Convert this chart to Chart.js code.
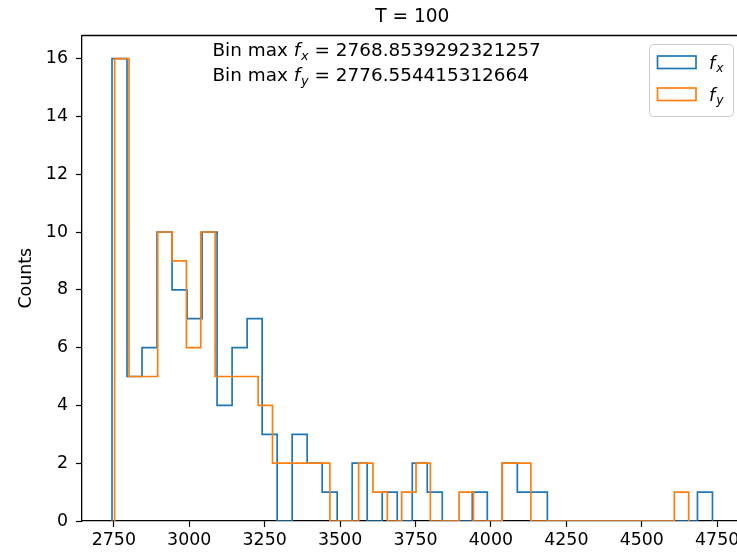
<!DOCTYPE html>
<html>
<head>
<meta charset="utf-8">
<title>T = 100</title>
<script src="https://cdn.jsdelivr.net/npm/chart.js@4.4.1/dist/chart.umd.min.js"></script>
<style>
  html, body { margin: 0; padding: 0; background: #fff; overflow: hidden; }
  #wrap { width: 737px; height: 553px; overflow: hidden; }
  canvas { display: block; }
</style>
</head>
<body>
<div id="wrap"><canvas id="hist" width="800" height="553"></canvas></div>
<script>
// Counts per bin (40 bins for each series)
const countsFx = [16, 5, 6, 10, 8, 7, 10, 4, 6, 7, 3, 0, 3, 2, 1, 0, 2, 0, 1, 0,
                  2, 1, 0, 0, 1, 0, 2, 1, 1, 0, 0, 0, 0, 0, 0, 0, 0, 0, 0, 1];
const countsFy = [16, 5, 5, 10, 9, 6, 10, 5, 5, 5, 4, 2, 2, 2, 2, 0, 0, 2, 1, 0,
                  1, 2, 0, 0, 1, 0, 0, 2, 2, 0, 0, 0, 0, 0, 0, 0, 0, 0, 0, 1];

// Bin widths and the centre of the fullest bin
const binWidthFx = 49.76;
const binWidthFy = 47.57;
const binMaxFx = 2768.8539292321257;
const binMaxFy = 2776.554415312664;
const binMaxFxLabel = '2768.8539292321257';
const binMaxFyLabel = '2776.554415312664';

const xTicks = [2750, 3000, 3250, 3500, 3750, 4000, 4250, 4500, 4750];
const yTicks = [0, 2, 4, 6, 8, 10, 12, 14, 16];
const xRange = [2644.5, 4833.9];
const yRange = [0, 16.8];

const BLUE = '#1f77b4';
const ORANGE = '#ff7f0e';
const FONT = 'DejaVu Sans';

// outline of a step histogram: up the first edge, across each bin, down the last edge
function stepOutline(counts, binMax, width) {
  let peak = counts.indexOf(Math.max(...counts));
  let start = binMax - (peak + 0.5) * width;
  let pts = [{ x: start, y: 0 }];
  counts.forEach((c, i) => pts.push({ x: start + i * width, y: c }));
  pts.push({ x: start + counts.length * width, y: 0 });
  return pts;
}

// text with an italic symbol and an italic subscript
function drawRich(ctx, x, y, parts, size) {
  ctx.textBaseline = 'alphabetic';
  ctx.textAlign = 'left';
  for (const [txt, kind] of parts) {
    let s = size, dy = 0, style = 'normal';
    if (kind === 'it') style = 'italic';
    if (kind === 'sub') { style = 'italic'; s = size * 0.7; dy = size * 0.22; }
    ctx.font = style + ' ' + s + 'px "' + FONT + '"';
    ctx.fillText(txt, x, y + dy);
    x += ctx.measureText(txt).width + (kind === 'it' ? 1 : 0);
  }
}

const extras = {
  id: 'extras',
  afterDraw(chart) {
    const ctx = chart.ctx;
    const a = chart.chartArea;
    ctx.save();
    // top and right spines
    ctx.strokeStyle = '#000';
    ctx.lineWidth = 1.3;
    ctx.beginPath();
    ctx.moveTo(a.left, a.top);
    ctx.lineTo(a.right, a.top);
    ctx.lineTo(a.right, a.bottom);
    ctx.stroke();

    // notes with the bin maxima
    ctx.fillStyle = '#000';
    drawRich(ctx, 212.5, 56, [['Bin max ', 'rm'], ['f', 'it'], ['x', 'sub'], [' = ' + binMaxFxLabel, 'rm']], 18.4);
    drawRich(ctx, 212.5, 81, [['Bin max ', 'rm'], ['f', 'it'], ['y', 'sub'], [' = ' + binMaxFyLabel, 'rm']], 18.4);

    // legend
    ctx.fillStyle = 'rgba(255,255,255,0.8)';
    ctx.strokeStyle = '#cccccc';
    ctx.lineWidth = 1;
    ctx.beginPath();
    ctx.roundRect(649.5, 44.5, 84, 72, 4);
    ctx.fill();
    ctx.stroke();
    const entries = [['x', BLUE, 56], ['y', ORANGE, 88]];
    for (const [sub, color, top] of entries) {
      ctx.strokeStyle = color;
      ctx.lineWidth = 1.7;
      ctx.strokeRect(657.5, top, 38.5, 12.5);
      ctx.fillStyle = '#000';
      drawRich(ctx, 709, top + 12.5, [['f', 'it'], [sub, 'sub']], 17.6);
    }
    ctx.restore();
  }
};

const tickFont = { family: FONT, size: 17.4 };

new Chart(document.getElementById('hist'), {
  type: 'line',
  data: {
    datasets: [
      {
        label: 'f_x',
        data: stepOutline(countsFx, binMaxFx, binWidthFx),
        borderColor: BLUE,
        borderWidth: 1.7,
        stepped: true,
        pointRadius: 0,
        fill: false,
        order: 1
      },
      {
        label: 'f_y',
        data: stepOutline(countsFy, binMaxFy, binWidthFy),
        borderColor: ORANGE,
        borderWidth: 1.7,
        stepped: true,
        pointRadius: 0,
        fill: false,
        order: 0
      }
    ]
  },
  options: {
    responsive: false,
    animation: false,
    devicePixelRatio: 1,
    layout: { padding: { top: 0, right: 57.5, bottom: 0, left: 0 } },
    plugins: {
      legend: { display: false },
      tooltip: { enabled: false },
      title: {
        display: true,
        text: 'T = 100',
        fullSize: false,
        color: '#000',
        font: { family: FONT, size: 18.6, weight: 'normal' },
        padding: { top: 6, bottom: 7.2 }
      }
    },
    scales: {
      x: {
        type: 'linear',
        min: xRange[0],
        max: xRange[1],
        afterFit: s => { s.height = 32; },
        afterBuildTicks: s => { s.ticks = xTicks.map(v => ({ value: v })); },
        ticks: {
          color: '#000',
          font: tickFont,
          padding: 3,
          maxRotation: 0,
          autoSkip: false,
          callback: v => String(v)
        },
        grid: { drawOnChartArea: false, drawTicks: true, tickLength: 6, tickColor: '#000', tickWidth: 1.2 },
        border: { display: true, color: '#000', width: 1.3 }
      },
      y: {
        min: yRange[0],
        max: yRange[1],
        afterFit: s => { s.width = 82; },
        afterBuildTicks: s => { s.ticks = yTicks.map(v => ({ value: v })); },
        ticks: {
          color: '#000',
          font: tickFont,
          padding: 8,
          autoSkip: false,
          callback: v => String(v)
        },
        title: {
          display: true,
          text: 'Counts',
          color: '#000',
          font: { family: FONT, size: 17.4 },
          padding: { top: 16.5, bottom: 0 }
        },
        grid: { drawOnChartArea: false, drawTicks: true, tickLength: 6, tickColor: '#000', tickWidth: 1.2 },
        border: { display: true, color: '#000', width: 1.3 }
      }
    }
  },
  plugins: [extras]
});
</script>
</body>
</html>
